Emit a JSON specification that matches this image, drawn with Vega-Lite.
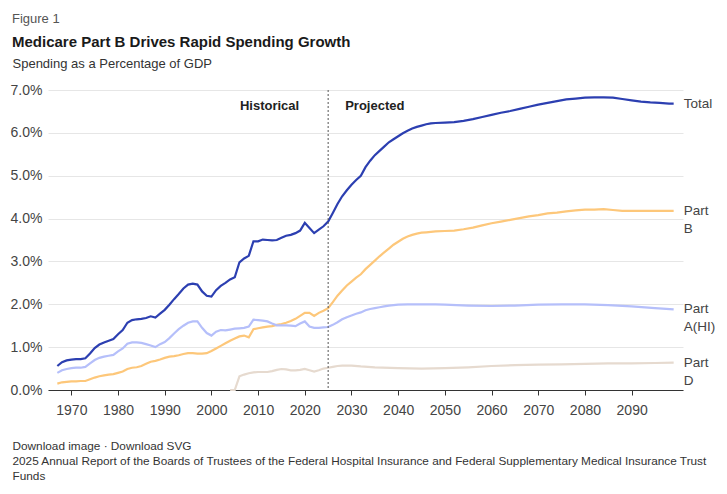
{
  "$schema": "https://vega.github.io/schema/vega-lite/v6.json",
  "width": 635,
  "height": 300,
  "autosize": {"type": "none"},
  "padding": {"left": 48, "top": 90, "right": 44, "bottom": 104},
  "background": "white",
  "title": {
    "text": "Figure 1",
    "subtitle": "Medicare Part B Drives Rapid Spending Growth",
    "anchor": "start",
    "frame": "group",
    "dx": -36,
    "offset": 7,
    "font": "Liberation Sans",
    "fontSize": 13,
    "fontWeight": "normal",
    "color": "#555555",
    "subtitleFont": "Liberation Sans",
    "subtitleFontSize": 15,
    "subtitleFontWeight": "bold",
    "subtitleColor": "#1a1a1a",
    "subtitlePadding": 9
  },
  "datasets": {
    "spend": [
      {"year":1967,"series":"Total","value":0.56},{"year":1968,"series":"Total","value":0.65},{"year":1969,"series":"Total","value":0.69},{"year":1970,"series":"Total","value":0.71},{"year":1971,"series":"Total","value":0.72},{"year":1972,"series":"Total","value":0.72},{"year":1973,"series":"Total","value":0.74},{"year":1974,"series":"Total","value":0.85},{"year":1975,"series":"Total","value":0.98},{"year":1976,"series":"Total","value":1.06},{"year":1977,"series":"Total","value":1.11},{"year":1978,"series":"Total","value":1.15},{"year":1979,"series":"Total","value":1.19},{"year":1980,"series":"Total","value":1.30},{"year":1981,"series":"Total","value":1.40},{"year":1982,"series":"Total","value":1.57},{"year":1983,"series":"Total","value":1.63},{"year":1984,"series":"Total","value":1.65},{"year":1985,"series":"Total","value":1.66},{"year":1986,"series":"Total","value":1.68},{"year":1987,"series":"Total","value":1.72},{"year":1988,"series":"Total","value":1.69},{"year":1989,"series":"Total","value":1.78},{"year":1990,"series":"Total","value":1.87},{"year":1991,"series":"Total","value":1.99},{"year":1992,"series":"Total","value":2.12},{"year":1993,"series":"Total","value":2.24},{"year":1994,"series":"Total","value":2.37},{"year":1995,"series":"Total","value":2.46},{"year":1996,"series":"Total","value":2.48},{"year":1997,"series":"Total","value":2.46},{"year":1998,"series":"Total","value":2.30},{"year":1999,"series":"Total","value":2.20},{"year":2000,"series":"Total","value":2.18},{"year":2001,"series":"Total","value":2.33},{"year":2002,"series":"Total","value":2.43},{"year":2003,"series":"Total","value":2.50},{"year":2004,"series":"Total","value":2.58},{"year":2005,"series":"Total","value":2.63},{"year":2006,"series":"Total","value":2.98},{"year":2007,"series":"Total","value":3.07},{"year":2008,"series":"Total","value":3.13},{"year":2009,"series":"Total","value":3.47},{"year":2010,"series":"Total","value":3.47},{"year":2011,"series":"Total","value":3.51},{"year":2012,"series":"Total","value":3.50},{"year":2013,"series":"Total","value":3.49},{"year":2014,"series":"Total","value":3.50},{"year":2015,"series":"Total","value":3.55},{"year":2016,"series":"Total","value":3.60},{"year":2017,"series":"Total","value":3.62},{"year":2018,"series":"Total","value":3.66},{"year":2019,"series":"Total","value":3.72},{"year":2020,"series":"Total","value":3.90},{"year":2021,"series":"Total","value":3.78},{"year":2022,"series":"Total","value":3.66},{"year":2023,"series":"Total","value":3.74},{"year":2024,"series":"Total","value":3.82},{"year":2025,"series":"Total","value":3.93},{"year":2026,"series":"Total","value":4.13},{"year":2027,"series":"Total","value":4.34},{"year":2028,"series":"Total","value":4.52},{"year":2029,"series":"Total","value":4.66},{"year":2030,"series":"Total","value":4.79},{"year":2031,"series":"Total","value":4.90},{"year":2032,"series":"Total","value":5.00},{"year":2033,"series":"Total","value":5.20},{"year":2034,"series":"Total","value":5.35},{"year":2035,"series":"Total","value":5.48},{"year":2036,"series":"Total","value":5.58},{"year":2037,"series":"Total","value":5.68},{"year":2038,"series":"Total","value":5.78},{"year":2039,"series":"Total","value":5.85},{"year":2040,"series":"Total","value":5.92},{"year":2041,"series":"Total","value":5.99},{"year":2042,"series":"Total","value":6.05},{"year":2043,"series":"Total","value":6.10},{"year":2044,"series":"Total","value":6.14},{"year":2045,"series":"Total","value":6.17},{"year":2046,"series":"Total","value":6.20},{"year":2047,"series":"Total","value":6.22},{"year":2048,"series":"Total","value":6.23},{"year":2050,"series":"Total","value":6.24},{"year":2052,"series":"Total","value":6.25},{"year":2054,"series":"Total","value":6.28},{"year":2056,"series":"Total","value":6.32},{"year":2058,"series":"Total","value":6.37},{"year":2060,"series":"Total","value":6.42},{"year":2062,"series":"Total","value":6.47},{"year":2064,"series":"Total","value":6.51},{"year":2066,"series":"Total","value":6.56},{"year":2068,"series":"Total","value":6.61},{"year":2070,"series":"Total","value":6.66},{"year":2072,"series":"Total","value":6.70},{"year":2074,"series":"Total","value":6.74},{"year":2076,"series":"Total","value":6.78},{"year":2078,"series":"Total","value":6.80},{"year":2080,"series":"Total","value":6.82},{"year":2082,"series":"Total","value":6.83},{"year":2084,"series":"Total","value":6.83},{"year":2086,"series":"Total","value":6.82},{"year":2088,"series":"Total","value":6.79},{"year":2090,"series":"Total","value":6.76},{"year":2092,"series":"Total","value":6.73},{"year":2094,"series":"Total","value":6.71},{"year":2096,"series":"Total","value":6.70},{"year":2098,"series":"Total","value":6.68},{"year":2099,"series":"Total","value":6.68},

      {"year":1967,"series":"Part B","value":0.15},{"year":1968,"series":"Part B","value":0.18},{"year":1969,"series":"Part B","value":0.19},{"year":1970,"series":"Part B","value":0.20},{"year":1971,"series":"Part B","value":0.20},{"year":1972,"series":"Part B","value":0.21},{"year":1973,"series":"Part B","value":0.21},{"year":1974,"series":"Part B","value":0.25},{"year":1975,"series":"Part B","value":0.29},{"year":1976,"series":"Part B","value":0.32},{"year":1977,"series":"Part B","value":0.34},{"year":1978,"series":"Part B","value":0.36},{"year":1979,"series":"Part B","value":0.37},{"year":1980,"series":"Part B","value":0.40},{"year":1981,"series":"Part B","value":0.43},{"year":1982,"series":"Part B","value":0.49},{"year":1983,"series":"Part B","value":0.52},{"year":1984,"series":"Part B","value":0.53},{"year":1985,"series":"Part B","value":0.56},{"year":1986,"series":"Part B","value":0.61},{"year":1987,"series":"Part B","value":0.66},{"year":1988,"series":"Part B","value":0.68},{"year":1989,"series":"Part B","value":0.71},{"year":1990,"series":"Part B","value":0.75},{"year":1991,"series":"Part B","value":0.78},{"year":1992,"series":"Part B","value":0.79},{"year":1993,"series":"Part B","value":0.81},{"year":1994,"series":"Part B","value":0.84},{"year":1995,"series":"Part B","value":0.86},{"year":1996,"series":"Part B","value":0.86},{"year":1997,"series":"Part B","value":0.85},{"year":1998,"series":"Part B","value":0.85},{"year":1999,"series":"Part B","value":0.86},{"year":2000,"series":"Part B","value":0.91},{"year":2001,"series":"Part B","value":0.97},{"year":2002,"series":"Part B","value":1.03},{"year":2003,"series":"Part B","value":1.09},{"year":2004,"series":"Part B","value":1.15},{"year":2005,"series":"Part B","value":1.20},{"year":2006,"series":"Part B","value":1.25},{"year":2007,"series":"Part B","value":1.27},{"year":2008,"series":"Part B","value":1.23},{"year":2009,"series":"Part B","value":1.42},{"year":2010,"series":"Part B","value":1.44},{"year":2011,"series":"Part B","value":1.46},{"year":2012,"series":"Part B","value":1.48},{"year":2013,"series":"Part B","value":1.49},{"year":2014,"series":"Part B","value":1.52},{"year":2015,"series":"Part B","value":1.54},{"year":2016,"series":"Part B","value":1.57},{"year":2017,"series":"Part B","value":1.61},{"year":2018,"series":"Part B","value":1.66},{"year":2019,"series":"Part B","value":1.73},{"year":2020,"series":"Part B","value":1.80},{"year":2021,"series":"Part B","value":1.80},{"year":2022,"series":"Part B","value":1.73},{"year":2023,"series":"Part B","value":1.80},{"year":2024,"series":"Part B","value":1.85},{"year":2025,"series":"Part B","value":1.91},{"year":2026,"series":"Part B","value":2.05},{"year":2027,"series":"Part B","value":2.20},{"year":2028,"series":"Part B","value":2.32},{"year":2029,"series":"Part B","value":2.44},{"year":2030,"series":"Part B","value":2.53},{"year":2031,"series":"Part B","value":2.62},{"year":2032,"series":"Part B","value":2.70},{"year":2033,"series":"Part B","value":2.82},{"year":2034,"series":"Part B","value":2.92},{"year":2035,"series":"Part B","value":3.02},{"year":2036,"series":"Part B","value":3.12},{"year":2037,"series":"Part B","value":3.21},{"year":2038,"series":"Part B","value":3.30},{"year":2039,"series":"Part B","value":3.39},{"year":2040,"series":"Part B","value":3.46},{"year":2041,"series":"Part B","value":3.53},{"year":2042,"series":"Part B","value":3.58},{"year":2043,"series":"Part B","value":3.62},{"year":2044,"series":"Part B","value":3.65},{"year":2045,"series":"Part B","value":3.67},{"year":2046,"series":"Part B","value":3.68},{"year":2048,"series":"Part B","value":3.70},{"year":2050,"series":"Part B","value":3.71},{"year":2052,"series":"Part B","value":3.72},{"year":2054,"series":"Part B","value":3.75},{"year":2056,"series":"Part B","value":3.79},{"year":2058,"series":"Part B","value":3.84},{"year":2060,"series":"Part B","value":3.89},{"year":2062,"series":"Part B","value":3.93},{"year":2064,"series":"Part B","value":3.97},{"year":2066,"series":"Part B","value":4.01},{"year":2068,"series":"Part B","value":4.05},{"year":2070,"series":"Part B","value":4.08},{"year":2072,"series":"Part B","value":4.12},{"year":2074,"series":"Part B","value":4.14},{"year":2076,"series":"Part B","value":4.17},{"year":2078,"series":"Part B","value":4.19},{"year":2080,"series":"Part B","value":4.21},{"year":2082,"series":"Part B","value":4.21},{"year":2084,"series":"Part B","value":4.22},{"year":2086,"series":"Part B","value":4.20},{"year":2088,"series":"Part B","value":4.18},{"year":2090,"series":"Part B","value":4.18},{"year":2094,"series":"Part B","value":4.18},{"year":2099,"series":"Part B","value":4.18},

      {"year":1967,"series":"Part A(HI)","value":0.40},{"year":1968,"series":"Part A(HI)","value":0.46},{"year":1969,"series":"Part A(HI)","value":0.49},{"year":1970,"series":"Part A(HI)","value":0.51},{"year":1971,"series":"Part A(HI)","value":0.52},{"year":1972,"series":"Part A(HI)","value":0.52},{"year":1973,"series":"Part A(HI)","value":0.54},{"year":1974,"series":"Part A(HI)","value":0.62},{"year":1975,"series":"Part A(HI)","value":0.70},{"year":1976,"series":"Part A(HI)","value":0.75},{"year":1977,"series":"Part A(HI)","value":0.78},{"year":1978,"series":"Part A(HI)","value":0.80},{"year":1979,"series":"Part A(HI)","value":0.82},{"year":1980,"series":"Part A(HI)","value":0.90},{"year":1981,"series":"Part A(HI)","value":0.97},{"year":1982,"series":"Part A(HI)","value":1.08},{"year":1983,"series":"Part A(HI)","value":1.11},{"year":1984,"series":"Part A(HI)","value":1.11},{"year":1985,"series":"Part A(HI)","value":1.10},{"year":1986,"series":"Part A(HI)","value":1.07},{"year":1987,"series":"Part A(HI)","value":1.04},{"year":1988,"series":"Part A(HI)","value":1.00},{"year":1989,"series":"Part A(HI)","value":1.07},{"year":1990,"series":"Part A(HI)","value":1.12},{"year":1991,"series":"Part A(HI)","value":1.21},{"year":1992,"series":"Part A(HI)","value":1.32},{"year":1993,"series":"Part A(HI)","value":1.42},{"year":1994,"series":"Part A(HI)","value":1.50},{"year":1995,"series":"Part A(HI)","value":1.57},{"year":1996,"series":"Part A(HI)","value":1.60},{"year":1997,"series":"Part A(HI)","value":1.60},{"year":1998,"series":"Part A(HI)","value":1.45},{"year":1999,"series":"Part A(HI)","value":1.33},{"year":2000,"series":"Part A(HI)","value":1.27},{"year":2001,"series":"Part A(HI)","value":1.36},{"year":2002,"series":"Part A(HI)","value":1.40},{"year":2003,"series":"Part A(HI)","value":1.39},{"year":2004,"series":"Part A(HI)","value":1.41},{"year":2005,"series":"Part A(HI)","value":1.43},{"year":2006,"series":"Part A(HI)","value":1.44},{"year":2007,"series":"Part A(HI)","value":1.45},{"year":2008,"series":"Part A(HI)","value":1.48},{"year":2009,"series":"Part A(HI)","value":1.64},{"year":2010,"series":"Part A(HI)","value":1.63},{"year":2011,"series":"Part A(HI)","value":1.62},{"year":2012,"series":"Part A(HI)","value":1.60},{"year":2013,"series":"Part A(HI)","value":1.55},{"year":2014,"series":"Part A(HI)","value":1.51},{"year":2015,"series":"Part A(HI)","value":1.51},{"year":2016,"series":"Part A(HI)","value":1.51},{"year":2017,"series":"Part A(HI)","value":1.50},{"year":2018,"series":"Part A(HI)","value":1.49},{"year":2019,"series":"Part A(HI)","value":1.55},{"year":2020,"series":"Part A(HI)","value":1.60},{"year":2021,"series":"Part A(HI)","value":1.48},{"year":2022,"series":"Part A(HI)","value":1.45},{"year":2023,"series":"Part A(HI)","value":1.45},{"year":2024,"series":"Part A(HI)","value":1.46},{"year":2025,"series":"Part A(HI)","value":1.47},{"year":2026,"series":"Part A(HI)","value":1.52},{"year":2027,"series":"Part A(HI)","value":1.58},{"year":2028,"series":"Part A(HI)","value":1.65},{"year":2029,"series":"Part A(HI)","value":1.70},{"year":2030,"series":"Part A(HI)","value":1.74},{"year":2031,"series":"Part A(HI)","value":1.78},{"year":2032,"series":"Part A(HI)","value":1.81},{"year":2033,"series":"Part A(HI)","value":1.86},{"year":2034,"series":"Part A(HI)","value":1.89},{"year":2035,"series":"Part A(HI)","value":1.91},{"year":2036,"series":"Part A(HI)","value":1.93},{"year":2037,"series":"Part A(HI)","value":1.95},{"year":2038,"series":"Part A(HI)","value":1.97},{"year":2039,"series":"Part A(HI)","value":1.98},{"year":2040,"series":"Part A(HI)","value":1.99},{"year":2042,"series":"Part A(HI)","value":2.00},{"year":2045,"series":"Part A(HI)","value":2.00},{"year":2048,"series":"Part A(HI)","value":2.00},{"year":2050,"series":"Part A(HI)","value":1.99},{"year":2055,"series":"Part A(HI)","value":1.97},{"year":2060,"series":"Part A(HI)","value":1.96},{"year":2065,"series":"Part A(HI)","value":1.97},{"year":2070,"series":"Part A(HI)","value":1.99},{"year":2075,"series":"Part A(HI)","value":2.00},{"year":2080,"series":"Part A(HI)","value":2.00},{"year":2085,"series":"Part A(HI)","value":1.98},{"year":2090,"series":"Part A(HI)","value":1.95},{"year":2095,"series":"Part A(HI)","value":1.91},{"year":2099,"series":"Part A(HI)","value":1.88},

      {"year":2004,"series":"Part D","value":0.00},{"year":2005,"series":"Part D","value":0.00},{"year":2006,"series":"Part D","value":0.32},{"year":2007,"series":"Part D","value":0.36},{"year":2008,"series":"Part D","value":0.39},{"year":2009,"series":"Part D","value":0.41},{"year":2010,"series":"Part D","value":0.42},{"year":2011,"series":"Part D","value":0.42},{"year":2012,"series":"Part D","value":0.42},{"year":2013,"series":"Part D","value":0.44},{"year":2014,"series":"Part D","value":0.47},{"year":2015,"series":"Part D","value":0.49},{"year":2016,"series":"Part D","value":0.48},{"year":2017,"series":"Part D","value":0.46},{"year":2018,"series":"Part D","value":0.46},{"year":2019,"series":"Part D","value":0.47},{"year":2020,"series":"Part D","value":0.49},{"year":2021,"series":"Part D","value":0.46},{"year":2022,"series":"Part D","value":0.43},{"year":2023,"series":"Part D","value":0.46},{"year":2024,"series":"Part D","value":0.50},{"year":2025,"series":"Part D","value":0.52},{"year":2026,"series":"Part D","value":0.54},{"year":2027,"series":"Part D","value":0.56},{"year":2028,"series":"Part D","value":0.57},{"year":2029,"series":"Part D","value":0.57},{"year":2030,"series":"Part D","value":0.57},{"year":2032,"series":"Part D","value":0.55},{"year":2035,"series":"Part D","value":0.53},{"year":2040,"series":"Part D","value":0.51},{"year":2045,"series":"Part D","value":0.50},{"year":2050,"series":"Part D","value":0.51},{"year":2055,"series":"Part D","value":0.53},{"year":2060,"series":"Part D","value":0.56},{"year":2065,"series":"Part D","value":0.58},{"year":2070,"series":"Part D","value":0.59},{"year":2075,"series":"Part D","value":0.60},{"year":2080,"series":"Part D","value":0.61},{"year":2085,"series":"Part D","value":0.62},{"year":2090,"series":"Part D","value":0.62},{"year":2095,"series":"Part D","value":0.63},{"year":2099,"series":"Part D","value":0.64}
    ]
  },
  "encoding": {
    "x": {
      "field": "year",
      "type": "quantitative",
      "scale": {"domain": [1965, 2101], "nice": false, "zero": false},
      "axis": {
        "values": [1970, 1980, 1990, 2000, 2010, 2020, 2030, 2040, 2050, 2060, 2070, 2080, 2090],
        "format": "d",
        "grid": false,
        "domain": true,
        "domainColor": "#333333",
        "ticks": true,
        "tickColor": "#333333",
        "tickSize": 5,
        "labelFontSize": 14,
        "labelColor": "#444444",
        "labelPadding": 8,
        "title": ["Download image · Download SVG", "2025 Annual Report of the Boards of Trustees of the Federal Hospital Insurance and Federal Supplementary Medical Insurance Trust", "Funds"],
        "titleX": -36,
        "titleY": 50,
        "titleAlign": "left",
        "titleAnchor": "start",
        "titleBaseline": "top",
        "titleFont": "Liberation Sans",
        "titleFontSize": 11.8,
        "titleFontWeight": "normal",
        "titleColor": "#333333",
        "titleLineHeight": 15
      }
    },
    "y": {
      "field": "value",
      "type": "quantitative",
      "scale": {"domain": [0, 7], "nice": false},
      "axis": {
        "values": [0, 1, 2, 3, 4, 5, 6, 7],
        "labelExpr": "format(datum.value, '.1f') + '%'",
        "domain": false,
        "ticks": false,
        "grid": true,
        "gridColor": "#e6e6e6",
        "labelFontSize": 14,
        "labelColor": "#444444",
        "labelPadding": 6,
        "title": "Spending as a Percentage of GDP",
        "titleAngle": 0,
        "titleAlign": "left",
        "titleBaseline": "middle",
        "titleX": -36,
        "titleY": -27,
        "titleFont": "Liberation Sans",
        "titleFontSize": 13,
        "titleFontWeight": "normal",
        "titleColor": "#333333"
      }
    }
  },
  "layer": [
    {
      "data": {"name": "spend"},
      "mark": {"type": "line", "strokeWidth": 2.2, "interpolate": "linear"},
      "encoding": {
        "color": {
          "field": "series",
          "type": "nominal",
          "scale": {"domain": ["Total", "Part B", "Part A(HI)", "Part D"], "range": ["#2c3fb1", "#fdc77a", "#b5bffa", "#e6dacf"]},
          "legend": null
        },
        "detail": {"field": "series"},
        "order": {"field": "year"}
      }
    },
    {
      "data": {"values": [{"year": 2025}]},
      "mark": {"type": "rule", "color": "#555555", "strokeWidth": 1, "strokeDash": [2, 2]},
      "encoding": {"y": null}
    },
    {
      "data": {"values": [{"year": 2025, "value": 6.62}]},
      "mark": {"type": "text", "text": "Historical", "align": "right", "baseline": "middle", "dx": -29, "fontSize": 13, "fontWeight": "bold", "fill": "#222222", "font": "Liberation Sans"},
      "encoding": {}
    },
    {
      "data": {"values": [{"year": 2025, "value": 6.62}]},
      "mark": {"type": "text", "text": "Projected", "align": "left", "baseline": "middle", "dx": 17, "fontSize": 13, "fontWeight": "bold", "fill": "#222222", "font": "Liberation Sans"},
      "encoding": {}
    },
    {
      "data": {"name": "spend"},
      "transform": [{"filter": "datum.year === 2099"}],
      "mark": {"type": "text", "align": "left", "baseline": "middle", "dx": 10, "fontSize": 13.5, "lineHeight": 18, "lineBreak": " ", "color": "#444444", "font": "Liberation Sans"},
      "encoding": {"text": {"field": "series"}}
    }
  ],
  "config": {
    "view": {"stroke": null},
    "font": "Liberation Sans"
  }
}
